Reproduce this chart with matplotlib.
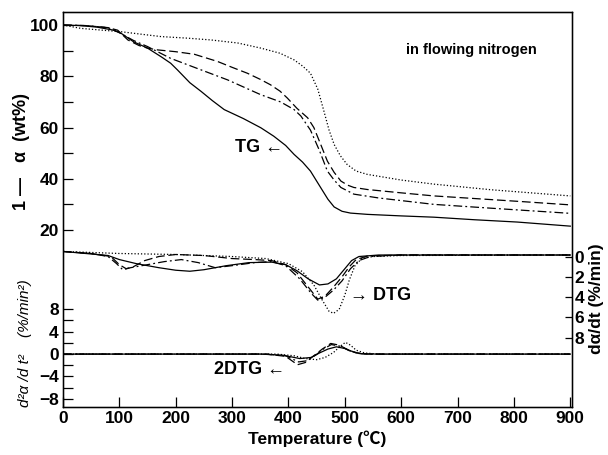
import matplotlib
matplotlib.use("Agg")
import matplotlib.pyplot as plt

plt.rcParams['font.family'] = ['Liberation Sans', 'DejaVu Sans']

# TG curves (1 - alpha, wt%)
tg_solid_t = [0, 30, 60, 90, 103, 125, 150, 175, 191, 203, 225, 245, 265, 286, 320, 351, 374, 395, 410, 425, 439, 457, 470, 481, 495, 510, 540, 600, 658, 730, 806, 900]
tg_solid = [100, 99.8, 99.2, 98, 96.8, 93.5, 91, 87.5, 85.1, 82.5, 77.5, 74.1, 70.5, 67, 63.5, 59.9, 56.6, 53, 49.5, 46.5, 43, 36.6, 32, 29, 27.3, 26.6, 26.1, 25.5, 25, 24, 23.1, 21.5]

tg_dash_t = [0, 40, 80, 97, 115, 135, 150, 168, 200, 233, 274, 300, 327, 350, 368, 385, 398, 415, 434, 445, 457, 469, 481, 493, 505, 516, 540, 600, 658, 750, 820, 900]
tg_dash = [100, 99.8, 99, 98, 94.2, 92, 91, 90.3, 89.6, 88.6, 85.8, 83.5, 81.2, 78.8, 76.7, 74.2, 71.5, 67.5, 63.8, 60, 53.5, 46.9, 42.5, 39.1, 37.5, 36.6, 35.8, 34.5, 33.3, 32, 31, 29.8]

tg_dashdot_t = [0, 40, 80, 100, 125, 150, 191, 245, 292, 351, 386, 410, 422, 439, 455, 469, 481, 493, 516, 560, 658, 760, 900]
tg_dashdot = [100, 99.8, 99, 97, 94, 91.6, 87, 82.5, 78.6, 72.8, 70, 67, 64.5, 59, 51, 43, 39.5, 36.6, 34, 32.5, 30, 28.5, 26.5]

tg_dot_t = [0, 32, 70, 103, 140, 174, 220, 262, 310, 351, 385, 410, 425, 439, 452, 463, 472, 481, 492, 504, 520, 540, 600, 658, 760, 900]
tg_dot = [100, 98.7, 98, 97.4, 96.4, 95.5, 94.9, 94.2, 93, 91, 89, 86.4, 84, 81.2, 75, 66.3, 59, 53.4, 49, 45.6, 43, 41.7, 39.5, 37.9, 35.7, 33.3]

# DTG curves (d alpha/dt, %/min)
dtg_solid_t = [0, 40, 80, 100, 130, 170, 200, 225, 250, 290, 330, 370, 395, 415, 435, 455, 470, 485, 500, 512, 525, 560, 900]
dtg_solid = [-0.5, -0.3, -0.1, 0.3, 0.7, 1.1, 1.35, 1.45, 1.3, 0.9, 0.6, 0.55, 0.8, 1.4, 2.2, 2.8, 2.7, 2.2, 1.2, 0.4, 0.0, -0.15, -0.15]

dtg_dash_t = [0, 50, 85, 100, 112, 125, 145, 170, 200, 250, 300, 340, 370, 395, 415, 435, 452, 465, 480, 495, 508, 520, 540, 600, 900]
dtg_dash = [-0.5, -0.3, 0.0, 0.8, 1.2, 1.0, 0.4, 0.0, -0.2, -0.1, 0.2, 0.3, 0.4, 0.8, 1.6, 3.0, 4.2, 3.9, 3.0, 2.0, 1.0, 0.3, -0.05, -0.15, -0.15]

dtg_dashdot_t = [0, 50, 80, 95, 106, 120, 150, 180, 210, 240, 270, 300, 340, 370, 395, 420, 440, 452, 465, 480, 495, 510, 525, 545, 600, 900]
dtg_dashdot = [-0.5, -0.3, 0.0, 0.7, 1.3, 1.1, 0.8, 0.5, 0.3, 0.6, 1.1, 0.9, 0.6, 0.5, 0.9, 2.2, 3.6, 4.3, 4.0, 3.3, 2.4, 1.2, 0.4, 0.0, -0.15, -0.15]

dtg_dot_t = [0, 50, 100, 200, 300, 360, 400, 425, 445, 460, 472, 480, 490, 500, 508, 518, 530, 550, 600, 900]
dtg_dot = [-0.5, -0.4, -0.3, -0.2, 0.0, 0.2, 0.7, 1.5, 2.8, 4.3, 5.4, 5.6, 5.2, 3.8, 2.3, 0.9, 0.2, 0.0, -0.1, -0.15]

# 2DTG curves (d2 alpha/dt2, %/min2)
d2_solid_t = [0, 350, 390, 420, 440, 455, 470, 485, 500, 515, 530, 560, 900]
d2_solid = [0, 0, -0.2, -0.8, -0.6, 0.2, 0.9, 1.3, 1.0, 0.4, 0.05, 0, 0]

d2_dash_t = [0, 360, 395, 416, 430, 445, 460, 475, 490, 505, 520, 540, 900]
d2_dash = [0, 0, -0.4, -1.9, -1.5, -0.3, 0.9, 1.9, 1.6, 0.8, 0.2, 0, 0]

d2_dashdot_t = [0, 360, 395, 418, 432, 448, 462, 476, 492, 508, 525, 545, 900]
d2_dashdot = [0, 0, -0.3, -1.4, -1.2, -0.2, 0.9, 1.7, 1.4, 0.6, 0.1, 0, 0]

d2_dot_t = [0, 380, 410, 430, 450, 465, 480, 492, 501, 510, 520, 535, 560, 900]
d2_dot = [0, 0, -0.3, -0.8, -1.0, -0.6, 0.3, 1.4, 2.1, 1.6, 0.7, 0.2, 0, 0]

x_ticks = [0, 100, 200, 300, 400, 500, 600, 700, 800, 900]

sol = dict(color='black', lw=0.9, linestyle='-')
dsh = dict(color='black', lw=0.9, linestyle=(0, (7, 3)))
dsd = dict(color='black', lw=0.9, linestyle=(0, (7, 2.5, 1.5, 2.5)))
dot = dict(color='black', lw=0.9, linestyle=(0, (1, 1.6)))

fig = plt.figure(figsize=(6.08, 4.55), dpi=100)
ax = fig.add_axes([63/608, 48/455, 509/608, 395/455])

ax.plot(tg_solid_t, tg_solid, **sol)
ax.plot(tg_dash_t, tg_dash, **dsh)
ax.plot(tg_dashdot_t, tg_dashdot, **dsd)
ax.plot(tg_dot_t, tg_dot, **dot)

ax.set_xlim(0, 903)
ax.set_ylim(-49.1, 105.1)
ax.set_xticks(x_ticks)
ax.set_yticks([20, 40, 60, 80, 100])
ax.set_yticks([30, 50, 70, 90], minor=True)
ax.tick_params(axis='both', which='both', direction='in', length=7, width=0.9,
               labelsize=12.5, pad=3)
for lab in ax.get_xticklabels() + ax.get_yticklabels():
    lab.set_fontweight('bold')
for s in ax.spines.values():
    s.set_linewidth(1.0)

ax.set_xlabel('Temperature (℃)', fontsize=12.5, fontweight='bold',
              family=['Liberation Sans', 'Noto Sans CJK SC'], labelpad=3)

# DTG on right axis (inverted)
ax2 = ax.twinx()
ax2.plot(dtg_solid_t, dtg_solid, **sol)
ax2.plot(dtg_dash_t, dtg_dash, **dsh)
ax2.plot(dtg_dashdot_t, dtg_dashdot, **dsd)
ax2.plot(dtg_dot_t, dtg_dot, **dot)
ax2.set_ylim(14.83, -24.1)
ax2.set_yticks([0, 2, 4, 6, 8])
ax2.tick_params(axis='y', direction='in', length=5, width=0.9, labelsize=12.5, pad=2)
for lab in ax2.get_yticklabels():
    lab.set_fontweight('bold')
ax2.set_xlim(0, 903)

# 2DTG on left axis
ax3 = ax.twinx()
ax3.plot(d2_solid_t, d2_solid, **sol)
ax3.plot(d2_dash_t, d2_dash, **dsh)
ax3.plot(d2_dashdot_t, d2_dashdot, **dsd)
ax3.plot(d2_dot_t, d2_dot, **dot)
ax3.set_ylim(-9.45, 61.1)
ax3.yaxis.tick_left()
ax3.set_yticks([-8, -4, 0, 4, 8])
ax3.set_yticks([-6, -2, 2, 6], minor=True)
ax3.tick_params(axis='y', which='both', direction='in', length=7, width=0.9,
                labelsize=12.5, pad=3)
for lab in ax3.get_yticklabels():
    lab.set_fontweight('bold')
ax3.set_xlim(0, 903)

# labels
fig.text(21/608, 1 - 152/455, '1 —   α  (wt%)', rotation=90, fontsize=13,
         fontweight='bold', ha='center', va='center')
fig.text(25/608, 1 - 343/455, 'd²α /d t²    (%/min²)', rotation=90, fontsize=11,
         style='italic', ha='center', va='center')
fig.text(597/608, 1 - 299/455, 'dα/dt (%/min)', rotation=90, fontsize=12.5,
         fontweight='bold', ha='center', va='center')

fig.text(471/608, 1 - 50/455, 'in flowing nitrogen', fontsize=10.5,
         fontweight='bold', ha='center', va='center')
fig.text(259/608, 1 - 148/455, 'TG ←', fontsize=13,
         fontweight='bold', ha='center', va='center')
fig.text(381/608, 1 - 295/455, '→ DTG', fontsize=13,
         fontweight='bold', ha='center', va='center')
fig.text(250/608, 1 - 370/455, '2DTG ←', fontsize=13,
         fontweight='bold', ha='center', va='center')

fig.savefig('out.png', dpi=100)
